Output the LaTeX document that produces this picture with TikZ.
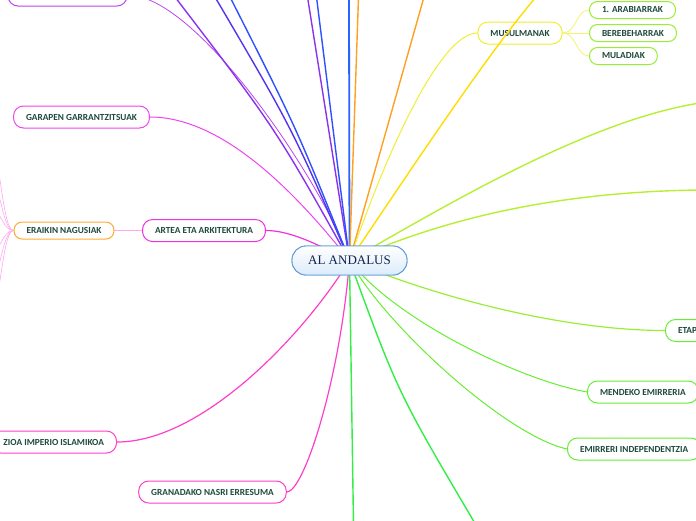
\documentclass[tikz,border=0pt]{standalone}
\usepackage{fontspec}
\usepackage{tikz}
\usetikzlibrary{backgrounds}
\setsansfont{Carlito}
\newfontfamily\rootfont{Liberation Serif}
\definecolor{labeltext}{HTML}{1E4A3C}
\definecolor{roottext}{HTML}{10224F}
\definecolor{rootline}{HTML}{5A9BD8}
\definecolor{rootfill}{HTML}{DCEBFA}
\definecolor{magentaA}{HTML}{EE33DD}
\definecolor{magentaB}{HTML}{EE44EE}
\definecolor{pinkA}{HTML}{FF3FC8}
\definecolor{pinkthin}{HTML}{FFA8EE}
\definecolor{violetA}{HTML}{BB44EE}
\definecolor{purpleA}{HTML}{8A33EE}
\definecolor{indigoA}{HTML}{5533EE}
\definecolor{blueA}{HTML}{3050FF}
\definecolor{blueB}{HTML}{2862FF}
\definecolor{orangeA}{HTML}{FFA022}
\definecolor{orangeB}{HTML}{FFAA33}
\definecolor{yellowA}{HTML}{EEEE33}
\definecolor{goldA}{HTML}{FFDD00}
\definecolor{limeA}{HTML}{B8EE33}
\definecolor{limeB}{HTML}{99EE33}
\definecolor{greenA}{HTML}{66EE33}
\definecolor{greenB}{HTML}{33EE44}

\tikzset{
  topic/.style={draw, fill=white, rounded corners=10pt, line width=1pt, text=labeltext,
    font=\sffamily\bfseries\fontsize{9.3}{10}\selectfont, inner xsep=12.5pt, inner ysep=0pt,
    minimum height=22pt},
  subtopic/.style={topic, rounded corners=8pt, minimum height=17pt},
  central/.style={draw=rootline, line width=0.9pt, top color=white, bottom color=rootfill,
    rounded corners=14pt, minimum width=115pt, minimum height=29pt, text=roottext,
    font=\rootfont\fontsize{13}{14}\selectfont},
  link/.style={line width=1.4pt},
  twig/.style={line width=0.8pt},
}

\begin{document}
\begin{tikzpicture}[x=1pt,y=-1pt]
    \useasboundingbox (0,0) rectangle (696,520);
    \clip (0,0) rectangle (696,520);
    \node[central] at(349.5,260.5)(root){AL ANDALUS};
    % left side
    \node[topic, draw=violetA, minimum width=119pt] at(67.5,-5)(topleft){};
    \node[topic, draw=magentaB] at(81.5,117)(garapen){GARAPEN GARRANTZITSUAK};
    \node[topic, draw=magentaA] at(204,230.5)(artea){ARTEA ETA ARKITEKTURA};
    \node[subtopic, draw=orangeB] at(64,230.5)(eraikin){ERAIKIN NAGUSIAK};
    \node[topic, draw=pinkA, anchor=east] at(117,442)(izioa){ZIOA IMPERIO ISLAMIKOA};
    \node[topic, draw=pinkA] at(212.5,492)(granada){GRANADAKO NASRI ERRESUMA};
    % right side
    \node[topic, draw=yellowA] at(520,33)(musulmanak){MUSULMANAK};
    \node[subtopic, draw=limeB, anchor=west] at(589,10)(arabiarrak){1. ARABIARRAK};
    \node[subtopic, draw=limeB, anchor=west] at(589,33)(berebeharrak){BEREBEHARRAK};
    \node[subtopic, draw=limeB, anchor=west] at(589,56)(muladiak){MULADIAK};
    \node[topic, draw=greenA, anchor=west] at(665,330.5)(etap){ETAP};
    \node[topic, draw=greenA, anchor=west] at(587,392)(mendeko){MENDEKO EMIRRERIA};
    \node[topic, draw=greenA, anchor=west] at(567,449)(emirreri){EMIRRERI INDEPENDENTZIA};
    % ends outside the frame
    \coordinate (up1) at(175,-3);
    \coordinate (up2) at(215,-3);
    \coordinate (up3) at(230,-3);
    \coordinate (up4) at(307.5,-3);
    \coordinate (up5) at(316.5,-3);
    \coordinate (up6) at(349,-3);
    \coordinate (up7) at(358.5,-3);
    \coordinate (up8) at(424,-3);
    \coordinate (up9) at(536,-3);
    \coordinate (east1) at(700,103);
    \coordinate (east2) at(700,190);
    \coordinate (down1) at(476,525);
    \coordinate (down2) at(353.5,525);
    \foreach \k/\y in {1/140,2/175,3/205,4/255,5/285,6/320}
      \coordinate (west\k) at(-12,\y);

    \begin{scope}[on background layer]
    \clip (0,0) rectangle (696,520);
    % upwards
    \draw[twig, violetA] (topleft.east) .. controls +(73,0) and +(-20,-65) .. (root.center);
    \draw[link, purpleA] (root.center) .. controls (276,129) .. (up1);
    \draw[link, indigoA] (root.center) .. controls (292.5,129) .. (up2);
    \draw[link, blueA] (root.center) .. controls (297,129) .. (up3);
    \draw[link, purpleA] (root.center) -- (up4);
    \draw[link, blueA] (root.center) -- (up5);
    \draw[line width=1.8pt, blueB] (root.center) -- (up6);
    \draw[link, orangeA] (root.center) .. controls (354,129) .. (up7);
    \draw[link, orangeA] (root.center) -- (up8);
    \draw[line width=1pt, yellowA] (root.center) .. controls +(30.5,-90.5) and +(-40,0) .. (musulmanak.west);
    \draw[twig, yellowA!70] (musulmanak.east) .. controls +(14,0) and +(-13,0) .. (arabiarrak.west);
    \draw[twig, yellowA!70] (musulmanak.east) -- (berebeharrak.west);
    \draw[twig, yellowA!70] (musulmanak.east) .. controls +(14,0) and +(-13,0) .. (muladiak.west);
    % rightwards
    \draw[link, limeA] (root.center) .. controls +(100.5,-57.5) and +(-110,17) .. (east1);
    \draw[link, limeA] (root.center) .. controls +(80.5,-35.5) and +(-160,2) .. (east2);
    \draw[line width=1.2pt, limeB] (root.center) .. controls +(80.5,34.5) and +(-105,0) .. (etap.west);
    \draw[line width=1pt, greenA] (root.center) .. controls +(45.5,59.5) and +(-67,-12) .. (mendeko.west);
    \draw[line width=1pt, greenA] (root.center) .. controls +(35.5,64.5) and +(-62,-14) .. (emirreri.west);
    % downwards
    \draw[link, greenB] (root.center) .. controls (398,393) .. (down1);
    \draw[link, greenB] (root.center) -- (down2);
    \draw[line width=1.2pt, pinkA] (root.center) .. controls +(-49.5,79.5) and +(83,0) .. (izioa.east);
    \draw[line width=1.2pt, pinkA] (root.center) .. controls +(-9.5,119.5) and +(17,0) .. (granada.east);
    % leftwards
    \draw[line width=1.2pt, magentaA] (root.center) .. controls +(-30,-15) and +(25,0) .. (artea.east);
    \draw[line width=1pt, magentaB] (root.center) .. controls +(-59.5,-75.5) and +(69,0) .. (garapen.east);
    \draw[twig, pinkthin] (artea.west) -- (eraikin.east);
    \foreach \k in {1,...,6}
      \draw[line width=0.6pt, pinkthin] (eraikin.west) .. controls +(-12,0) and +(12,0) .. (west\k);
    \end{scope}
    % crosses the node
    \draw[link, goldA] (root.center) .. controls +(54.5,-80.5) and +(-51,60) .. (up9);
    \node[central] at(349.5,260.5){AL ANDALUS};
\end{tikzpicture}
\end{document}
